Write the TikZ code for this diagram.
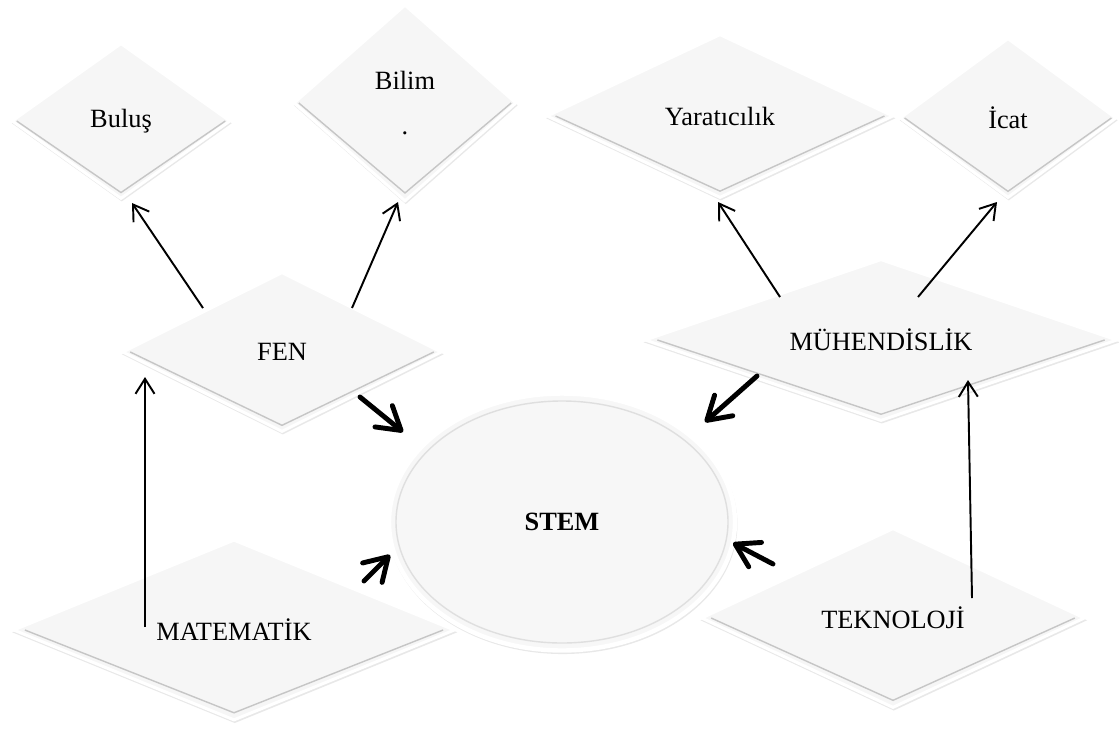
\documentclass[tikz,border=0pt]{standalone}
\usepackage{fontspec}
\setmainfont{Liberation Serif}
\usetikzlibrary{shapes.geometric, arrows.meta, calc, shadows}
\tikzset{
every node/.style = {font = \fontsize{15}{18}\selectfont},
box/.style = {diamond, draw = white, line width = 1.7pt, fill = gray!7,
   shape aspect = 2, inner sep = 1pt, align = center,
   drop shadow = {opacity = .18, shadow xshift = .15mm, shadow yshift = -.45mm,
      shadow scale = 1.01}},
hub/.style = {ellipse, draw = white, line width = 2.5pt, fill = gray!6,
   inner sep = 1pt, font = \fontsize{15}{18}\selectfont\bfseries,
   drop shadow = {opacity = .18, shadow xshift = .15mm, shadow yshift = -.45mm,
      shadow scale = 1.01}},
bevel/.style = {gray!45, line width = .8pt},
link/.style = {-{Straight Barb[length = 3mm, width = 3.8mm]}, line width = 1.1pt},
push/.style = {-{Straight Barb[length = 4.5mm, width = 5.5mm, round]},
   line width = 2.8pt, line cap = round}
}

\begin{document}
\begin{tikzpicture}[x = 0.02cm, y = -0.02cm]

\useasboundingbox (0,0) rectangle (1119,731);

%% Centre
\node [hub, minimum width = 69.2mm, minimum height = 51.4mm] (stem) at (562,522) {STEM};
\draw [bevel, gray!25] (stem.center) ellipse (166 and 121);

%% Diamonds
\foreach \n/\x/\y/\w/\h/\t in {bulus/121/121/219/156/Buluş,
   bilim/405/103/223/197/{Bilim\\[8pt].}, yarat/720/116/347/164/Yaratıcılık,
   icat/1008/118/217/160/İcat, fen/282/352/320/160/FEN,
   muh/881/340/473/162/MÜHENDİSLİK, mat/234/630/442/181/MATEMATİK,
   tek/893/618/384/180/TEKNOLOJİ} {
   \node [box, minimum width = \w*0.2mm, minimum height = \h*0.2mm] (\n) at (\x,\y) {\t};
   \draw [bevel] ($(\n.west)!.03!(\n.east)$) -- ($(\n.south)!.05!(\n.north)$)
      -- ($(\n.east)!.03!(\n.west)$);
}

%% Thin links
\draw [link] ($(fen)+(-79,-44)$) -- ($(bulus)+(11,82)$);
\draw [link] ($(fen)+(70,-44)$) -- ($(bilim)+(-7,99)$);
\draw [link] ($(muh)+(-101,-43)$) -- ($(yarat)+(-2,86)$);
\draw [link] ($(muh)+(37,-43)$) -- ($(icat)+(-11,84)$);
\draw [link] ($(mat)+(-89,-3)$) -- ($(fen)+(-137,25)$);
\draw [link] ($(tek)+(79,-20)$) -- ($(muh)+(87,40)$);

%% Thick arrows into STEM
\draw [push] ($(fen)+(78,45)$) -- ($(stem)+(-159,-90)$);
\draw [push] ($(muh)+(-124,36)$) -- ($(stem)+(143,-100)$);
\draw [push] ($(mat)+(130,-49)$) -- ($(stem)+(-172,33)$);
\draw [push] ($(tek)+(-120,-54)$) -- ($(stem)+(171,21)$);

\end{tikzpicture}
\end{document}
